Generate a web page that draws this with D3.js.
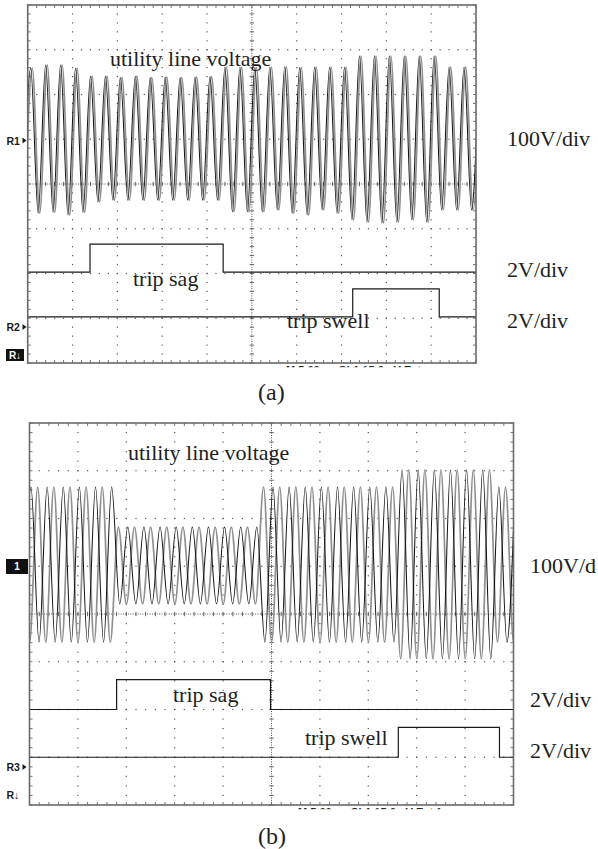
<!DOCTYPE html>
<html>
<head>
<meta charset="utf-8">
<script src="https://cdn.jsdelivr.net/npm/d3@7"></script>
<style>
  html, body { margin: 0; padding: 0; background: #fff; }
  svg { display: block; }
</style>
</head>
<body>
<svg id="chart" width="598" height="849"></svg>
<script>
// ---- Graticule: 10 horizontal x 8 vertical divisions ----
const timeDivs = [0, 1, 2, 3, 4, 5, 6, 7, 8, 9, 10];
const voltDivs = [-4, -3, -2, -1, 0, 1, 2, 3, 4];
const minorPerDiv = 5;

// ---- Sweep: 3 line cycles per division, extrema every 1/6 div ----
const halfCycleDiv = 1 / 6;

// Panel (a): line voltage extrema in volts (trough, peak, trough, ...)
const aLineStart = -0.1;      // time (div) of first extremum, black trace
const aGrayLag = 0.035;       // gray trace lags the black one (div)
const aLine = [-165,
  159, -165, 166, -163, 166, -169, 159, -163, 141, -140, 141, -136, 138, -136, 141, -136, 138, -136, 139, -136,
  138, -136, 139, -136, 140, -136, 161, -162, 161, -162, 160, -162, 161, -158, 162, -165, 160, -169, 161, -158,
  161, -165, 161, -180, 186, -185, 186, -187, 186, -185, 186, -180, 186, -185, 186, -158, 161, -158, 161, -158,
  161];

// Panel (a): trip signals (time in div, level in volts, step after)
const aSagTimes = [0, 1.39, 4.36, 10];
const aSagLevels = [0, 1.25, 0, 0];
const aSwellTimes = [0, 7.25, 9.18, 10];
const aSwellLevels = [0, 1.25, 0, 0];

// Panel (b): line voltage extrema, two traces
const bBlackStart = -0.136;
const bBlack = [-159,
  166, -159, 166, -159, 166, -159, 166, -159, 166, -159, 166, -79, 82, -79, 82, -79, 82, -79, 82, -79,
  82, -79, 82, -79, 82, -79, 82, -79, 82, -159, 166, -159, 166, -159, 166, -159, 166, -159, 166, -159,
  166, -159, 166, -159, 166, -159, 202, -194, 202, -194, 202, -194, 202, -194, 202, -194, 202, -194, 166, -159,
  166];
const bGrayStart = -0.164;
const bGray = [166, -159,
  166, -159, 166, -159, 166, -159, 166, -159, 166, -159, 82, -79, 82, -79, 82, -79, 82, -79, 82, -79,
  82, -79, 82, -79, 82, -79, 82, -79, 166, -159, 166, -159, 166, -159, 166, -159, 166, -159, 166, -159,
  166, -159, 166, -159, 166, -194, 202, -194, 202, -194, 202, -194, 202, -194, 202, -194, 202, -159, 166, -159,
  166];

// Panel (b): trip signals
const bSagTimes = [0, 1.80, 4.98, 10];
const bSagLevels = [0, 1.25, 0, 0];
const bSwellTimes = [0, 7.62, 9.71, 10];
const bSwellLevels = [0, 1.25, 0, 0];

// ---- Channel settings ----
const lineVoltsPerDiv = 100;
const tripVoltsPerDiv = 2;

// ---- Text ----
const titleText = "utility line voltage";
const sagText = "trip sag";
const swellText = "trip swell";

const serif = "'Liberation Serif', 'Times New Roman', Times, serif";
const sans = "'Liberation Sans', Arial, sans-serif";

const svg = d3.select("#chart");

const panels = [
  {
    id: "a",
    frame: { x0: 27.7, x1: 476, y0: 5, y1: 363 },
    lineOffset: 1,
    traces: [
      { start: aLineStart + aGrayLag, values: aLine, color: "#8f8f8f", width: 1.7 },
      { start: aLineStart, values: aLine, color: "#151515", width: 1.05 }
    ],
    trips: [
      { times: aSagTimes, levels: aSagLevels, offset: -1.97 },
      { times: aSwellTimes, levels: aSwellLevels, offset: -2.97 }
    ],
    texts: [
      { t: titleText, x: 110, y: 66 },
      { t: sagText, x: 133, y: 286 },
      { t: swellText, x: 287, y: 328 },
      { t: "100V/div", x: 507, y: 146 },
      { t: "2V/div", x: 507, y: 277 },
      { t: "2V/div", x: 507, y: 328 }
    ],
    caption: { t: "(a)", x: 258, y: 400 },
    status: { t: "M 5.00ms   Ch1 \u222B  5.0mV  Ext", x: 286 }
  },
  {
    id: "b",
    frame: { x0: 29.5, x1: 513.5, y0: 423, y1: 805 },
    lineOffset: 1,
    traces: [
      { start: bGrayStart, values: bGray, color: "#8f8f8f", width: 1.7 },
      { start: bBlackStart, values: bBlack, color: "#151515", width: 1.05 }
    ],
    trips: [
      { times: bSagTimes, levels: bSagLevels, offset: -2.0 },
      { times: bSwellTimes, levels: bSwellLevels, offset: -3.0 }
    ],
    texts: [
      { t: titleText, x: 128, y: 460 },
      { t: sagText, x: 173, y: 702 },
      { t: swellText, x: 305, y: 745 },
      { t: "100V/d", x: 530, y: 573 },
      { t: "2V/div", x: 530, y: 707 },
      { t: "2V/div", x: 530, y: 758 }
    ],
    caption: { t: "(b)", x: 258, y: 844 },
    status: { t: "M 5.00ms   Ch1 \u222B  5.0mV  Ext \u222B", x: 298 }
  }
];

panels.forEach(p => {
  const f = p.frame;
  const x = d3.scaleLinear().domain([timeDivs[0], timeDivs[timeDivs.length - 1]]).range([f.x0, f.x1]);
  const y = d3.scaleLinear().domain([voltDivs[0], voltDivs[voltDivs.length - 1]]).range([f.y1, f.y0]);
  const g = svg.append("g").attr("class", "panel-" + p.id);

  const clipId = "clip-" + p.id;
  svg.append("defs").append("clipPath").attr("id", clipId)
    .append("rect").attr("x", f.x0).attr("y", f.y0)
    .attr("width", f.x1 - f.x0).attr("height", f.y1 - f.y0);

  // minor positions along each axis
  const tMinor = d3.range(0, (timeDivs.length - 1) * minorPerDiv + 1).map(i => timeDivs[0] + i / minorPerDiv);
  const vMinor = d3.range(0, (voltDivs.length - 1) * minorPerDiv + 1).map(i => voltDivs[0] + i / minorPerDiv);

  const grid = g.append("g").attr("class", "graticule");

  // dotted interior division lines
  timeDivs.slice(1, -1).filter(t => t !== 5).forEach(t => {
    grid.selectAll(null).data(vMinor.slice(1, -1)).join("rect")
      .attr("x", x(t) - 0.6).attr("y", d => y(d) - 0.6)
      .attr("width", 1.2).attr("height", 1.2).attr("fill", "#555");
  });
  voltDivs.slice(1, -1).filter(v => v !== 0).forEach(v => {
    grid.selectAll(null).data(tMinor.slice(1, -1)).join("rect")
      .attr("x", d => x(d) - 0.6).attr("y", y(v) - 0.6)
      .attr("width", 1.2).attr("height", 1.2).attr("fill", "#555");
  });

  // centre axes with minor tick marks
  grid.append("line").attr("x1", x(5)).attr("x2", x(5)).attr("y1", f.y0).attr("y2", f.y1)
    .attr("stroke", "#555").attr("stroke-width", 1).attr("stroke-dasharray", "1,1.4");
  grid.append("line").attr("x1", f.x0).attr("x2", f.x1).attr("y1", y(0)).attr("y2", y(0))
    .attr("stroke", "#555").attr("stroke-width", 1).attr("stroke-dasharray", "1,1.4");
  grid.selectAll(null).data(vMinor).join("line")
    .attr("x1", x(5) - 2.2).attr("x2", x(5) + 2.2)
    .attr("y1", d => y(d)).attr("y2", d => y(d))
    .attr("stroke", "#555").attr("stroke-width", 0.9);
  grid.selectAll(null).data(tMinor).join("line")
    .attr("x1", d => x(d)).attr("x2", d => x(d))
    .attr("y1", y(0) - 2.2).attr("y2", y(0) + 2.2)
    .attr("stroke", "#555").attr("stroke-width", 0.9);

  // frame ticks
  grid.selectAll(null).data(tMinor).join("line")
    .attr("x1", d => x(d)).attr("x2", d => x(d))
    .attr("y1", f.y0).attr("y2", f.y0 + 3)
    .attr("stroke", "#666").attr("stroke-width", 0.9);
  grid.selectAll(null).data(tMinor).join("line")
    .attr("x1", d => x(d)).attr("x2", d => x(d))
    .attr("y1", f.y1).attr("y2", f.y1 - 3)
    .attr("stroke", "#666").attr("stroke-width", 0.9);
  grid.selectAll(null).data(vMinor).join("line")
    .attr("x1", f.x0).attr("x2", f.x0 + 3)
    .attr("y1", d => y(d)).attr("y2", d => y(d))
    .attr("stroke", "#666").attr("stroke-width", 0.9);
  grid.selectAll(null).data(vMinor).join("line")
    .attr("x1", f.x1).attr("x2", f.x1 - 3)
    .attr("y1", d => y(d)).attr("y2", d => y(d))
    .attr("stroke", "#666").attr("stroke-width", 0.9);

  // line voltage traces
  const traceLine = d3.line()
    .x(d => x(d.t))
    .y(d => y(d.v / lineVoltsPerDiv + p.lineOffset))
    .curve(d3.curveMonotoneX);
  const traceG = g.append("g").attr("clip-path", `url(#${clipId})`);
  p.traces.forEach(tr => {
    const pts = tr.values.map((v, i) => ({ t: tr.start + i * halfCycleDiv, v }));
    traceG.append("path").datum(pts)
      .attr("d", traceLine)
      .attr("fill", "none")
      .attr("stroke", tr.color)
      .attr("stroke-width", tr.width)
      .attr("stroke-linejoin", "miter");
  });

  // trip signal traces
  p.trips.forEach(tp => {
    const pts = tp.times.map((t, i) => ({ t, v: tp.levels[i] }));
    const stepLine = d3.line()
      .x(d => x(d.t))
      .y(d => y(d.v / tripVoltsPerDiv + tp.offset))
      .curve(d3.curveStepAfter);
    traceG.append("path").datum(pts)
      .attr("d", stepLine)
      .attr("fill", "none")
      .attr("stroke", "#1a1a1a")
      .attr("stroke-width", 1.2);
  });

  // frame
  g.append("rect")
    .attr("x", f.x0).attr("y", f.y0)
    .attr("width", f.x1 - f.x0).attr("height", f.y1 - f.y0)
    .attr("fill", "none").attr("stroke", "#6a6a6a").attr("stroke-width", 1.6);

  // annotations
  g.selectAll(null).data(p.texts).join("text")
    .attr("x", d => d.x).attr("y", d => d.y)
    .attr("font-family", serif).attr("font-size", 22)
    .attr("fill", "#1e1e1e")
    .text(d => d.t);

  g.append("text")
    .attr("x", p.caption.x).attr("y", p.caption.y)
    .attr("font-family", serif).attr("font-size", 24)
    .attr("fill", "#1e1e1e")
    .text(p.caption.t);

  // scope readout line, cut by the lower edge of the capture
  const statusClip = "status-" + p.id;
  svg.append("defs").append("clipPath").attr("id", statusClip)
    .append("rect").attr("x", f.x0).attr("y", f.y1 + 1)
    .attr("width", f.x1 - f.x0).attr("height", 3.2);
  g.append("text")
    .attr("clip-path", `url(#${statusClip})`)
    .attr("x", p.status.x).attr("y", f.y1 + 11)
    .attr("font-family", sans).attr("font-weight", "bold").attr("font-size", 11)
    .attr("fill", "#222")
    .text(p.status.t);
});

// ---- Reference markers at the left edge ----
function refMarker(label, yMid) {
  svg.append("text").attr("x", 6.5).attr("y", yMid + 4)
    .attr("font-family", sans).attr("font-weight", "bold").attr("font-size", 10.5)
    .attr("fill", "#1a1a1a").text(label);
  svg.append("path")
    .attr("d", `M22.5,${yMid - 3}L26.5,${yMid}L22.5,${yMid + 3}Z`)
    .attr("fill", "#1a1a1a");
}
function invertedBox(label, x0, y0, w, h, fs) {
  svg.append("rect").attr("x", x0).attr("y", y0).attr("width", w).attr("height", h).attr("fill", "#111");
  svg.append("text").attr("x", x0 + w / 2).attr("y", y0 + h / 2 + fs * 0.36)
    .attr("text-anchor", "middle")
    .attr("font-family", sans).attr("font-weight", "bold").attr("font-size", fs)
    .attr("fill", "#fff").text(label);
}

refMarker("R1", 140.5);
refMarker("R2", 327);
invertedBox("R\u2193", 6, 349, 18, 12, 10);

invertedBox("1", 6, 559, 22, 15, 10);
refMarker("R3", 767);
svg.append("text").attr("x", 6.5).attr("y", 799)
  .attr("font-family", sans).attr("font-weight", "bold").attr("font-size", 10.5)
  .attr("fill", "#1a1a1a").text("R\u2193");
</script>
</body>
</html>
